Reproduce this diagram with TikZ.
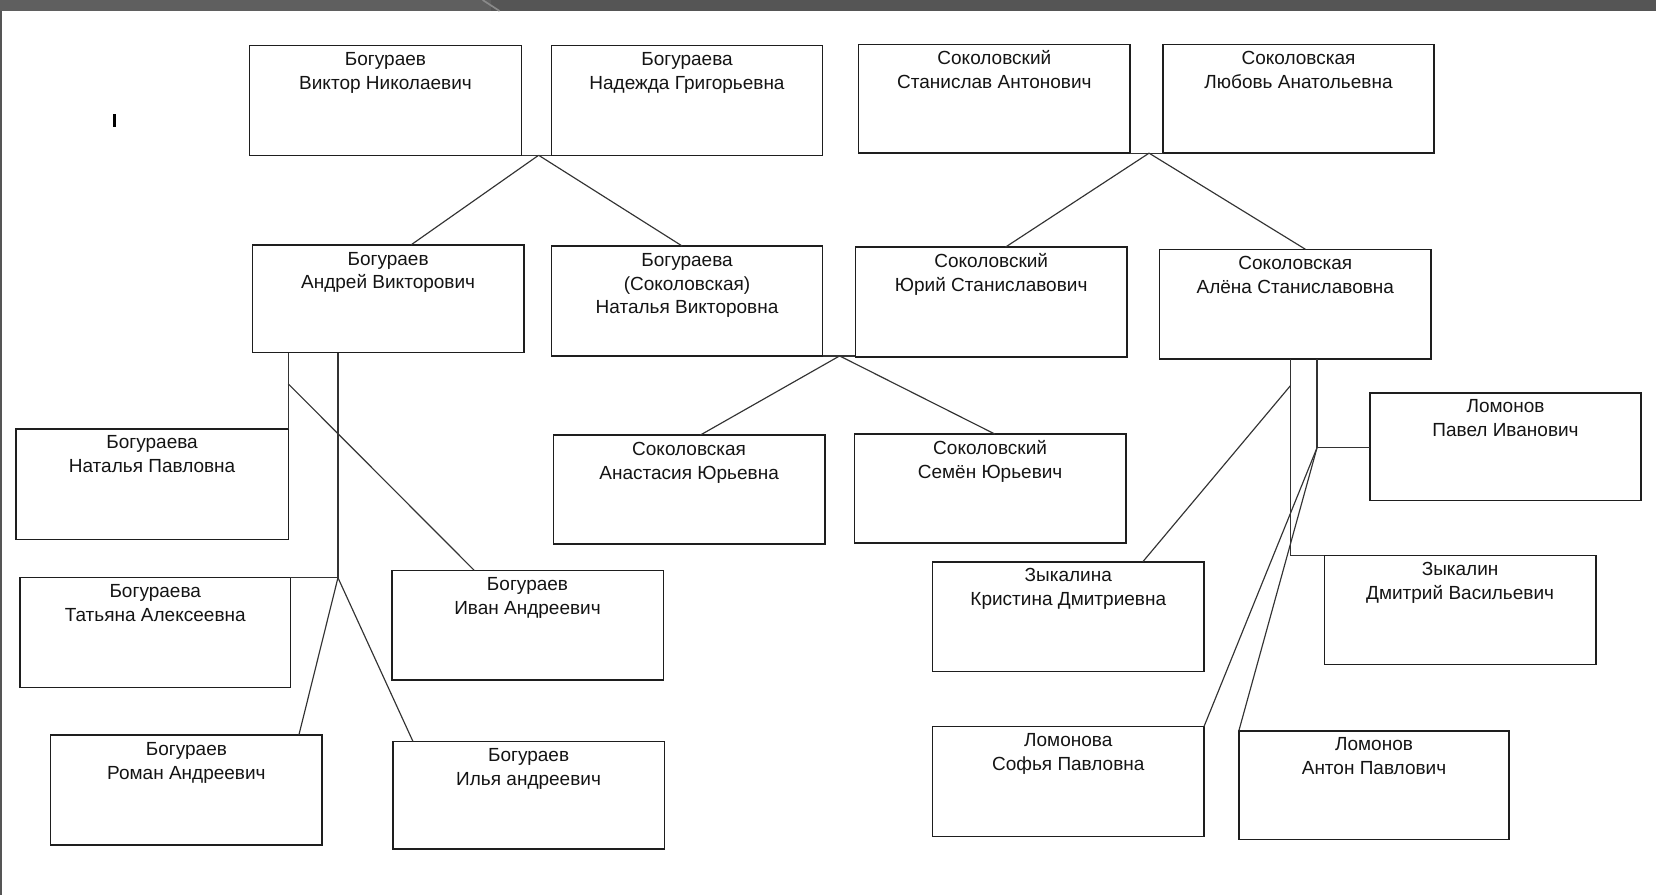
\documentclass[tikz,border=0pt]{standalone}
\usepackage{fontspec}
\setmainfont{Liberation Sans}
\usetikzlibrary{calc}
\definecolor{barL}{HTML}{5F5F5F}
\definecolor{barR}{HTML}{555555}
\definecolor{barD}{HTML}{8A8A8A}
\definecolor{boxc}{HTML}{1E1E1E}
\definecolor{linec}{HTML}{333333}
\definecolor{txtc}{HTML}{141414}
\tikzset{
  pboxst/.style={draw=boxc, line width=0.7pt, rectangle, inner sep=0pt, outer sep=0pt, anchor=north west},
  ptext/.style={anchor=north, align=center, inner sep=0pt, text=txtc, font=\fontsize{9}{11.3}\selectfont},
  conn/.style={draw=linec, line width=0.55pt},
}
\newcommand\pbox[6]{%
  \node[pboxst, minimum width={(#4-#2)*0.5pt}, minimum height={(#5-#3)*0.5pt}] (#1) at (#2,#3) {};
  \node[ptext] (#1t) at ([yshift=-1.4pt]#1.north) {\strut #6};
}
\begin{document}
\begin{tikzpicture}[x=0.5pt, y=-0.5pt]
\useasboundingbox (0,0) rectangle (1568,847);
% window frame
\fill[barL] (0,0) rectangle (465,10.4);
\fill[barR] (465,0) rectangle (1568,10.4);
\draw[barD, line width=0.8pt] (457,0) -- (473,10.4);
\fill[barR] (0,10.4) rectangle (2.2,847);
\fill[black] (107,108) rectangle (110,120);

% boxes
\pbox{b1}{236}{43}{494}{147}{Богураев\\Виктор Николаевич}
\pbox{b2}{522}{43}{779}{147}{Богураева\\Надежда Григорьевна}
\pbox{b3}{813}{42}{1070}{145}{Соколовский\\Станислав Антонович}
\pbox{b4}{1101}{42}{1358}{145}{Соколовская\\Любовь Анатольевна}
\pbox{b5}{239}{232}{496}{334}{Богураев\\Андрей Викторович}
\pbox{b6}{522}{233}{779}{337}{Богураева\\(Соколовская)\\Наталья Викторовна}
\pbox{b7}{810}{234}{1067}{338}{Соколовский\\Юрий Станиславович}
\pbox{b8}{1098}{236}{1355}{340}{Соколовская\\Алёна Станиславовна}
\pbox{b9}{15}{406}{273}{511}{Богураева\\Наталья Павловна}
\pbox{b10}{19}{547}{275}{651}{Богураева\\Татьяна Алексеевна}
\pbox{b11}{371}{540}{628}{644}{Богураев\\Иван Андреевич}
\pbox{b12}{48}{696}{305}{800}{Богураев\\Роман Андреевич}
\pbox{b13}{372}{702}{629}{804}{Богураев\\Илья андреевич}
\pbox{b14}{524}{412}{781}{515}{Соколовская\\Анастасия Юрьевна}
\pbox{b15}{809}{411}{1066}{514}{Соколовский\\Семён Юрьевич}
\pbox{b16}{1297}{372}{1554}{474}{Ломонов\\Павел Иванович}
\pbox{b17}{883}{532}{1140}{636}{Зыкалина\\Кристина Дмитриевна}
\pbox{b18}{1254}{526}{1511}{629}{Зыкалин\\Дмитрий Васильевич}
\pbox{b19}{883}{688}{1140}{792}{Ломонова\\Софья Павловна}
\pbox{b20}{1173}{692}{1429}{795}{Ломонов\\Антон Павлович}

% junctions
\coordinate (J1) at ($(b1.south east)+(16,0)$);
\coordinate (J2) at ($(b3.south east)+(18,0)$);
\coordinate (J3) at ($(b6.south east)+(16,0)$);
\coordinate (J4) at ($(b10.north east)+(45,0)$);
\coordinate (J5) at ($(b18.north west)+(-32,0)$);
\coordinate (J6) at ($(b16.north west)+(-50,52)$);
\coordinate (A1) at ($(b9.north east |- b5.south)+(0,29.5)$);
\coordinate (A2) at ($(J5 |- b8.south)+(0,25)$);

% generation 1 -> 2
\draw[conn] (b1.south east) -- (b2.south west);
\draw[conn] (J1) -- ([xshift=75pt]b5.north west);
\draw[conn] (J1) -- ([xshift=62pt]b6.north west);
\draw[conn] (b3.south east) -- (b4.south west);
\draw[conn] (J2) -- ([xshift=71pt]b7.north west);
\draw[conn] (J2) -- ([xshift=69pt]b8.north west);
% Natalya + Yuri
\draw[conn] (b6.south east) -- (b6.south east -| b7.west);
\draw[conn] (J3) -- ([xshift=69.5pt]b14.north west);
\draw[conn] (J3) -- ([xshift=66.5pt]b15.north west);
% Andrei
\draw[conn] (b9.north east |- b5.south) -- (b9.north east);
\draw[conn] (A1) -- ([xshift=39pt]b11.north west);
\draw[conn] (J4 |- b5.south) -- (J4) -- (b10.north east);
\draw[conn] (J4) -- ([xshift=117.5pt]b12.north west);
\draw[conn] (J4) -- ([xshift=9.5pt]b13.north west);
% Alena
\draw[conn] (J5 |- b8.south) -- (J5) -- (b18.north west);
\draw[conn] (A2) -- ([xshift=99.5pt]b17.north west);
\draw[conn] (J6 |- b8.south) -- (J6) -- (J6 -| b16.west);
\draw[conn] (J6) -- (b19.north east);
\draw[conn] (J6) -- (b20.north west);
\end{tikzpicture}
\end{document}
